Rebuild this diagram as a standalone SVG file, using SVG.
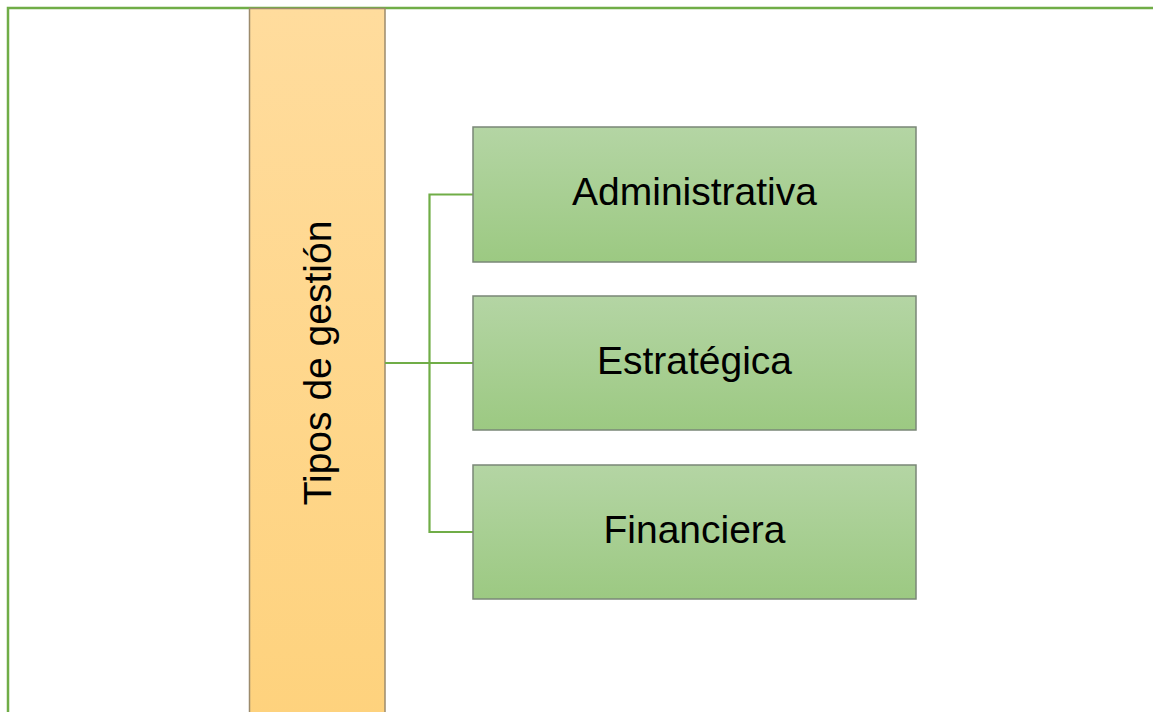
<svg xmlns="http://www.w3.org/2000/svg" width="1153" height="712" viewBox="0 0 1153 712">
<defs>
<linearGradient id="gBar" x1="0" y1="0" x2="0" y2="1">
<stop offset="0" stop-color="#FFDC9D"/>
<stop offset="1" stop-color="#FED27D"/>
</linearGradient>
<linearGradient id="gBox" x1="0" y1="0" x2="0" y2="1">
<stop offset="0" stop-color="#B4D5A4"/>
<stop offset="1" stop-color="#9CC982"/>
</linearGradient>
<style>
.frame{fill:none;stroke:#70AD47;stroke-width:2.5}
.conn{fill:none;stroke:#70AD47;stroke-width:2.2}
.box{fill:url(#gBox);stroke:#7A8777;stroke-width:1.5}
.bar{fill:url(#gBar);stroke:#9C8B6C;stroke-width:1.5}
.lbl{font-family:"Liberation Sans","Open Sans",Arial,sans-serif;font-size:39px;fill:#000;text-anchor:middle}
</style>
</defs>
<path class="frame" d="M8,712 V8 H1153"/>
<g id="tipos">
<rect class="bar" x="249.5" y="8.5" width="135.5" height="710"/>
<text class="lbl" transform="translate(331,363) rotate(-90)">Tipos de gestión</text>
</g>
<g id="connectors">
<path class="conn" d="M385,363 H473"/>
<path class="conn" d="M473,194.5 H429.5 V532 H473"/>
</g>
<g id="administrativa">
<rect class="box" x="473" y="127" width="443" height="135"/>
<text class="lbl" x="694.5" y="205">Administrativa</text>
</g>
<g id="estrategica">
<rect class="box" x="473" y="296" width="443" height="134"/>
<text class="lbl" x="694.5" y="374">Estratégica</text>
</g>
<g id="financiera">
<rect class="box" x="473" y="465" width="443" height="134"/>
<text class="lbl" x="694.5" y="543">Financiera</text>
</g>
</svg>
